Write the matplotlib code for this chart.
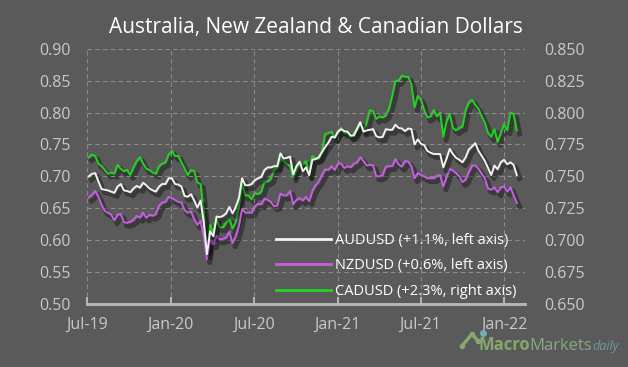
import numpy as np
import pandas as pd
import matplotlib
matplotlib.use("Agg")
import matplotlib.pyplot as plt
import matplotlib.dates as mdates
import matplotlib.patheffects as pe

# weekly closes (Fridays)
dates = pd.date_range("2019-07-05", periods=135, freq="W-FRI")

aud = [0.700, 0.704, 0.705, 0.692, 0.680, 0.679, 0.678, 0.676, 0.674, 0.684, 0.688, 0.678, 0.677,
       0.675, 0.681, 0.685, 0.682, 0.690, 0.686, 0.681, 0.678, 0.676, 0.684, 0.688, 0.688, 0.697,
       0.697, 0.688, 0.687, 0.684, 0.669, 0.668, 0.672, 0.662, 0.651, 0.662, 0.628, 0.578, 0.614,
       0.606, 0.637, 0.636, 0.638, 0.642, 0.652, 0.642, 0.652, 0.666, 0.697, 0.686, 0.686, 0.688,
       0.694, 0.697, 0.699, 0.710, 0.714, 0.714, 0.716, 0.716, 0.736, 0.728, 0.729, 0.731, 0.703,
       0.716, 0.723, 0.708, 0.714, 0.702, 0.726, 0.727, 0.730, 0.738, 0.746, 0.753, 0.762, 0.761,
       0.770, 0.774, 0.771, 0.770, 0.764, 0.764, 0.775, 0.785, 0.770, 0.772, 0.773, 0.774, 0.763,
       0.761, 0.762, 0.774, 0.773, 0.773, 0.781, 0.776, 0.775, 0.771, 0.775, 0.774, 0.750, 0.758,
       0.751, 0.749, 0.740, 0.737, 0.735, 0.735, 0.735, 0.714, 0.728, 0.743, 0.735, 0.729, 0.726,
       0.722, 0.730, 0.742, 0.747, 0.752, 0.740, 0.732, 0.724, 0.713, 0.702, 0.717, 0.711, 0.722,
       0.726, 0.719, 0.722, 0.718, 0.702]

nzd = [0.667, 0.671, 0.677, 0.668, 0.655, 0.646, 0.643, 0.640, 0.631, 0.640, 0.641, 0.628, 0.627,
       0.629, 0.632, 0.638, 0.635, 0.643, 0.635, 0.640, 0.638, 0.641, 0.654, 0.659, 0.660, 0.668,
       0.666, 0.663, 0.660, 0.659, 0.647, 0.643, 0.645, 0.633, 0.624, 0.630, 0.605, 0.570, 0.601,
       0.593, 0.607, 0.601, 0.602, 0.604, 0.613, 0.595, 0.606, 0.622, 0.649, 0.643, 0.643, 0.643,
       0.653, 0.657, 0.656, 0.665, 0.663, 0.660, 0.653, 0.654, 0.673, 0.670, 0.670, 0.677, 0.656,
       0.663, 0.666, 0.662, 0.668, 0.661, 0.677, 0.686, 0.692, 0.702, 0.711, 0.710, 0.716, 0.710,
       0.720, 0.720, 0.713, 0.716, 0.714, 0.720, 0.722, 0.730, 0.724, 0.717, 0.718, 0.717, 0.700,
       0.700, 0.702, 0.715, 0.716, 0.716, 0.727, 0.719, 0.715, 0.724, 0.723, 0.716, 0.697, 0.705,
       0.702, 0.700, 0.697, 0.697, 0.697, 0.701, 0.702, 0.684, 0.699, 0.712, 0.709, 0.705, 0.700,
       0.691, 0.695, 0.707, 0.717, 0.717, 0.712, 0.704, 0.697, 0.681, 0.679, 0.683, 0.675, 0.683,
       0.684, 0.676, 0.683, 0.670, 0.658]

cad = [0.765, 0.767, 0.766, 0.760, 0.758, 0.755, 0.752, 0.753, 0.752, 0.759, 0.756, 0.754, 0.755,
       0.751, 0.757, 0.762, 0.765, 0.760, 0.756, 0.755, 0.753, 0.752, 0.758, 0.760, 0.761, 0.767,
       0.770, 0.766, 0.766, 0.761, 0.756, 0.751, 0.755, 0.754, 0.745, 0.744, 0.722, 0.692, 0.712,
       0.706, 0.716, 0.710, 0.710, 0.714, 0.717, 0.709, 0.714, 0.726, 0.745, 0.735, 0.735, 0.732,
       0.737, 0.736, 0.738, 0.746, 0.746, 0.748, 0.755, 0.757, 0.764, 0.762, 0.760, 0.758, 0.749,
       0.755, 0.761, 0.759, 0.762, 0.751, 0.766, 0.764, 0.764, 0.770, 0.783, 0.784, 0.785, 0.780,
       0.785, 0.788, 0.784, 0.784, 0.781, 0.784, 0.787, 0.791, 0.786, 0.792, 0.802, 0.801, 0.795,
       0.797, 0.796, 0.798, 0.803, 0.813, 0.825, 0.825, 0.829, 0.828, 0.828, 0.822, 0.804, 0.813,
       0.810, 0.802, 0.796, 0.797, 0.802, 0.797, 0.800, 0.781, 0.793, 0.799, 0.788, 0.786, 0.788,
       0.789, 0.802, 0.808, 0.810, 0.806, 0.803, 0.797, 0.792, 0.784, 0.781, 0.787, 0.777, 0.784,
       0.791, 0.786, 0.800, 0.799, 0.786]

labels = ["AUDUSD (+1.1%, left axis)", "NZDUSD (+0.6%, left axis)", "CADUSD (+2.3%, right axis)"]
left_ticks = np.arange(0.50, 0.901, 0.05)
right_ticks = np.arange(0.650, 0.8501, 0.025)

bg = "#5a5a5a"
txt = "#c9c9c9"
c_aud, c_nzd, c_cad = "#f2f2f2", "#c85ee6", "#22d422"

plt.rcParams["font.family"] = ["Open Sans", "DejaVu Sans"]

fig = plt.figure(figsize=(6.28, 3.67), dpi=100, facecolor=bg)
ax = fig.add_axes([0.1385, 0.172, 0.6975, 0.695], facecolor=bg)
ax2 = ax.twinx()

shadow = [pe.SimpleLineShadow(offset=(2, -2.5), shadow_color="black", alpha=0.35, linewidth=3.5),
          pe.Normal()]

ax2.plot(dates, cad, color=c_cad, lw=1.4, path_effects=shadow, zorder=3)
ax.plot(dates, nzd, color=c_nzd, lw=1.4, path_effects=shadow, zorder=3)
ax.plot(dates, aud, color=c_aud, lw=1.4, path_effects=shadow, zorder=4)
ax.set_zorder(ax2.get_zorder() + 1)
ax.patch.set_visible(False)

ax.set_ylim(0.50, 0.90)
ax2.set_ylim(0.650, 0.850)
ax.set_yticks(left_ticks)
ax2.set_yticks(right_ticks)
ax.set_yticklabels([f"{v:.2f}" for v in left_ticks])
ax2.set_yticklabels([f"{v:.3f}" for v in right_ticks])

ax.set_xlim(pd.Timestamp("2019-07-01"), pd.Timestamp("2022-02-15"))
ax.xaxis.set_major_locator(mdates.MonthLocator(bymonth=[1, 7]))
ax.xaxis.set_major_formatter(mdates.DateFormatter("%b-%y"))

for a in (ax, ax2):
    for s in ("top", "left", "right"):
        a.spines[s].set_visible(False)
    a.spines["bottom"].set_color("#b4b4b4")
    a.spines["bottom"].set_linewidth(2)
ax.tick_params(axis="y", length=0, pad=12, labelsize=11.5, labelcolor=txt)
ax2.tick_params(axis="y", length=0, pad=14, labelsize=11.5, labelcolor=txt)
ax.tick_params(axis="x", direction="in", length=5, width=1.5, color="#b4b4b4",
               pad=9, labelsize=11.5, labelcolor=txt)

ax.grid(True, color="#8a8a8a", ls=(0, (4, 3)), lw=0.8)
ax.set_axisbelow(True)

fig.text(0.503, 1 - 28 / 367, "Australia, New Zealand & Canadian Dollars", color="white",
         fontsize=15, ha="center", va="center")

# legend
handles = [plt.Line2D([], [], color=c, lw=2) for c in (c_aud, c_nzd, c_cad)]
leg = ax.legend(handles, labels, loc="lower right", bbox_to_anchor=(1.0, -0.015), frameon=False,
                fontsize=10.5, labelcolor="white", handlelength=3.8, handletextpad=0.25,
                labelspacing=0.72, borderaxespad=0.2)

# logo, pieces placed one after another
renderer = fig.canvas.get_renderer()
x0, yb = 478 / 628, 1 - 350 / 367
for s, col, size, kw in [("Macro", "#86a86c", 12, {"fontweight": "bold"}),
                         ("Markets", "#88aa80", 12, {}),
                         ("daily", "#6f9aa0", 9, {"style": "italic"})]:
    t = fig.text(x0, yb, s, color=col, fontsize=size, ha="left", va="baseline", **kw)
    bb = t.get_window_extent(renderer)
    x0 = bb.x1 / fig.bbox.width
fig.add_artist(plt.Line2D([462 / 628, 472 / 628, 478 / 628], [1 - 346 / 367, 1 - 334 / 367, 1 - 341 / 367],
                          transform=fig.transFigure, color="#86a86c", lw=2.5, marker="o", ms=4,
                          markerfacecolor="#86a86c", markeredgewidth=0))
fig.add_artist(plt.Line2D([483 / 628], [1 - 333 / 367], transform=fig.transFigure, color="#6fb0b0",
                          marker="o", ms=5, markeredgewidth=0))

fig.savefig("out.png", dpi=100, facecolor=bg)
